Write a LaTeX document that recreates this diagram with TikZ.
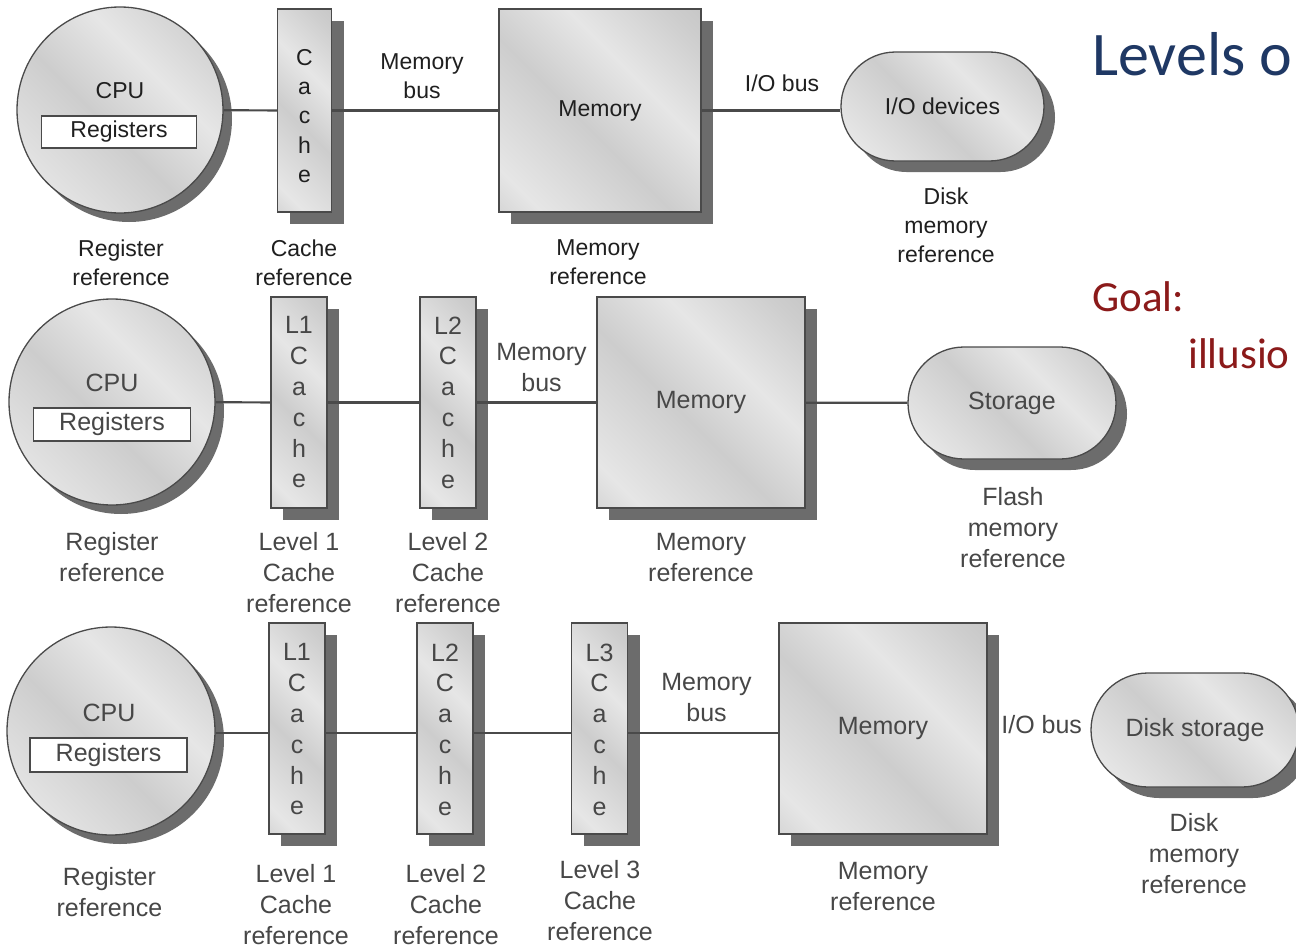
\documentclass[tikz,border=0pt]{standalone}
\usepackage{fontspec}
\setmainfont{Liberation Sans}
\newfontfamily\calibri{Carlito}
\usetikzlibrary{shapes.misc,shadows}
\definecolor{mA}{HTML}{B9B9B9}
\definecolor{mB}{HTML}{E6E6E6}
\definecolor{mC}{HTML}{CDCDCD}
\definecolor{shd}{HTML}{6C6C6C}
\definecolor{edge}{HTML}{4A4A4A}
\definecolor{titleblue}{HTML}{1F3864}
\definecolor{goalred}{HTML}{8B1A1A}
\pgfdeclarehorizontalshading{metal}{100bp}{color(0bp)=(mA); color(22bp)=(mB); color(45bp)=(mC); color(62bp)=(mB); color(80bp)=(mC); color(100bp)=(mA)}
\tikzset{
  metalfill/.style={shade, shading=metal, shading angle=45, draw=edge, line width=1.3pt},
  shad/.style={drop shadow={shadow xshift=#1, shadow yshift=-#1, fill=shd, opacity=1}},
  cpu/.style={circle, metalfill, inner sep=0pt, shad=9pt},
  regbox/.style={rectangle, draw=edge, fill=white, line width=1.3pt, inner sep=0pt},
  cachebox/.style={rectangle, metalfill, inner sep=0pt, shad=12pt},
  membox/.style={rectangle, metalfill, inner sep=0pt, shad=12pt},
  stadium/.style={rounded rectangle, metalfill, inner sep=0pt, shad=11pt},
  bus/.style={draw=edge, line width=2.2pt},
  txtA/.style={font=\fontsize{23}{29}\selectfont, text=black!88, align=center, inner sep=0pt},
  txtB/.style={font=\fontsize{25}{31}\selectfont, text=black!72, align=center, inner sep=0pt},
  lettersA/.style={font=\fontsize{23}{29.2}\selectfont, text=black!88, align=center, inner sep=0pt},
  lettersB/.style={font=\fontsize{25}{30.8}\selectfont, text=black!72, align=center, inner sep=0pt},
}
\begin{document}
\begin{tikzpicture}[x=1pt,y=-1pt]
\useasboundingbox (0,0) rectangle (1296,950);
\clip (0,0) rectangle (1296,950);
\fill[white] (0,0) rectangle (1296,950);

% ---------------- Row 1 ----------------
\node[cpu, minimum size=206pt] (cpu1) at (120,110) {};
\node[txtA] (cpu1t) at (120,91) {CPU};
\node[regbox, txtA, minimum width=155pt, minimum height=32pt] (reg1) at (119,132) {Registers};
\node[cachebox, minimum width=54pt, minimum height=203pt] (c11) at (304.5,110.5) {};
\node[lettersA] (c11t) at (304.5,116) {C\\a\\c\\h\\e};
\node[membox, txtA, minimum width=202pt, minimum height=203pt] (m1) at (600,110.5) {Memory};
\node[stadium, txtA, minimum width=203pt, minimum height=109pt] (io1) at (942.5,106.5) {I/O devices};

\draw[bus] (cpu1) -- (c11);
\draw[bus] (c11) -- (m1);
\draw[bus] (m1.east) -- (m1.east -| io1.west);

\node[txtA] (mb1) at (422,76.5) {Memory\\bus};
\node[txtA] (iob1) at (782,83) {I/O bus};
\node[txtA] (rr1) at (121,262.5) {Register\\reference};
\node[txtA] (cr1) at (304,262.5) {Cache\\reference};
\node[txtA] (mr1) at (598,262.5) {Memory\\reference};
\node[txtA] (dr1) at (946,225) {Disk\\memory\\reference};

% ---------------- Row 2 ----------------
\node[cpu, minimum size=206pt] (cpu2) at (112,402) {};
\node[txtB] (cpu2t) at (112,383) {CPU};
\node[regbox, txtB, minimum width=157pt, minimum height=33pt] (reg2) at (112,424.5) {Registers};
\node[cachebox, minimum width=56pt, minimum height=211pt] (c21) at (299,402.5) {};
\node[lettersB] (c21t) at (299,402.5) {L1\\C\\a\\c\\h\\e};
\node[cachebox, minimum width=56pt, minimum height=211pt] (c22) at (448,402.5) {};
\node[lettersB] (c22t) at (448,402.5) {L2\\C\\a\\c\\h\\e};
\node[membox, txtB, minimum width=208pt, minimum height=211pt] (m2) at (701,402.5) {Memory};
\node[stadium, txtB, minimum width=208pt, minimum height=112pt] (s2) at (1012,403) {Storage};

\draw[bus] (cpu2) -- (c21);
\draw[bus] (c21) -- (c22);
\draw[bus] (c22) -- (m2);
\draw[bus] (m2) -- (s2);

\node[txtB] (mb2) at (541.5,367.5) {Memory\\bus};
\node[txtB] (rr2) at (112,557) {Register\\reference};
\node[txtB] (l1r2) at (299,572.5) {Level 1\\Cache\\reference};
\node[txtB] (l2r2) at (448,572.5) {Level 2\\Cache\\reference};
\node[txtB] (mr2) at (701,557.5) {Memory\\reference};
\node[txtB] (fr2) at (1013,527.5) {Flash\\memory\\reference};

% ---------------- Row 3 ----------------
\coordinate (bus3) at (0,733);
\node[cpu, minimum size=208pt] (cpu3) at (111,731) {};
\node[txtB] (cpu3t) at (109,713) {CPU};
\node[regbox, txtB, minimum width=157pt, minimum height=34pt] (reg3) at (108.5,755) {Registers};
\node[cachebox, minimum width=56pt, minimum height=211pt] (c31) at (297,728.5) {};
\node[lettersB] (c31t) at (297,729.5) {L1\\C\\a\\c\\h\\e};
\node[cachebox, minimum width=56pt, minimum height=211pt] (c32) at (445,728.5) {};
\node[lettersB] (c32t) at (445,729.5) {L2\\C\\a\\c\\h\\e};
\node[cachebox, minimum width=56pt, minimum height=211pt] (c33) at (599.5,728.5) {};
\node[lettersB] (c33t) at (599.5,729.5) {L3\\C\\a\\c\\h\\e};
\node[membox, txtB, minimum width=208pt, minimum height=211pt] (m3) at (883,728.5) {Memory};
\node[stadium, txtB, minimum width=208pt, minimum height=114pt] (d3) at (1195,730) {Disk storage};

\draw[bus] (cpu3.east |- bus3) -- (c31.west |- bus3);
\draw[bus] (c31.east |- bus3) -- (c32.west |- bus3);
\draw[bus] (c32.east |- bus3) -- (c33.west |- bus3);
\draw[bus] (c33.east |- bus3) -- (m3.west |- bus3);

\node[txtB] (mb3) at (706.5,698) {Memory\\bus};
\node[txtB] (iob3) at (1041.7,725) {I/O bus};
\node[txtB] (rr3) at (109.4,892) {Register\\reference};
\node[txtB] (l1r3) at (296,905) {Level 1\\Cache\\reference};
\node[txtB] (l2r3) at (446,905) {Level 2\\Cache\\reference};
\node[txtB] (l3r3) at (600,901) {Level 3\\Cache\\reference};
\node[txtB] (mr3) at (883,887) {Memory\\reference};
\node[txtB] (dr3) at (1194,853.5) {Disk\\memory\\reference};

% ---------------- Slide text ----------------
\node[anchor=base west, inner sep=0pt, font=\calibri\fontsize{62}{70}\selectfont, text=titleblue] (title) at (1092,75) {Levels o};
\node[anchor=base west, inner sep=0pt, font=\calibri\fontsize{43}{50}\selectfont, text=goalred] (goal) at (1092,311) {Goal:};
\node[anchor=base west, inner sep=0pt, font=\calibri\fontsize{43}{50}\selectfont, text=goalred] (illu) at (1188,368) {illusio};
\end{tikzpicture}
\end{document}
